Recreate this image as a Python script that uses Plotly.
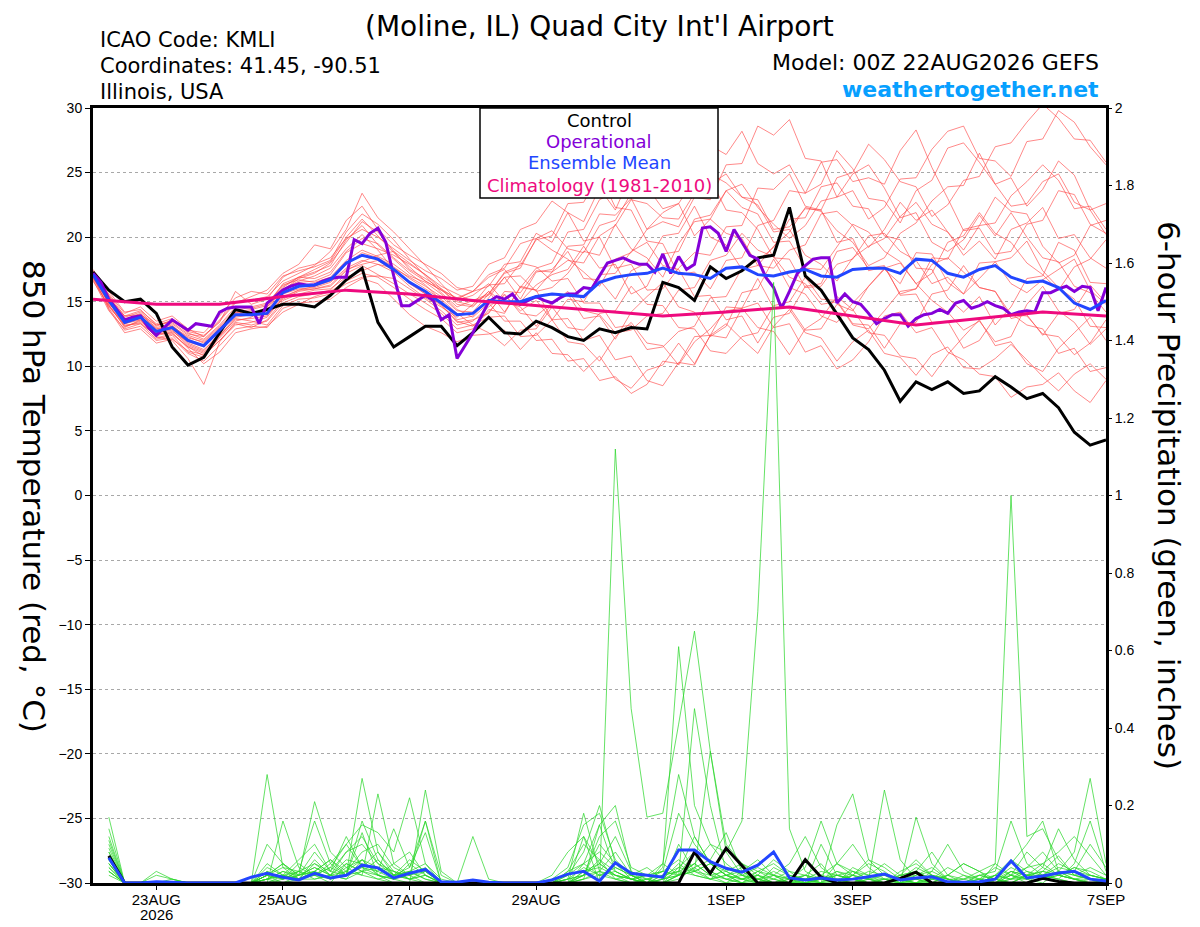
import plotly.graph_objects as go
import pandas as pd

# ---- time axes ----
start = pd.Timestamp("2026-08-22 00:00")
times6 = pd.date_range(start, periods=65, freq="6h")
times3 = pd.date_range(start, periods=129, freq="3h")
times24 = pd.date_range(start, periods=17, freq="24h")

tick_vals = ["2026-08-23", "2026-08-25", "2026-08-27", "2026-08-29",
             "2026-09-01", "2026-09-03", "2026-09-05", "2026-09-07"]
tick_text = ["23AUG", "25AUG", "27AUG", "29AUG", "1SEP", "3SEP", "5SEP", "7SEP"]
year_label = "2026"

# ---- 850 hPa temperature (C) ----
control_t = [17.3, 15.9, 15.0, 15.2, 14.1, 11.5, 10.1, 10.7, 12.6, 14.4,
             14.1, 14.4, 14.8, 14.8, 14.6, 15.5, 16.7, 17.6, 13.4, 11.5,
             12.3, 13.1, 13.1, 11.6, 12.6, 13.8, 12.6, 12.5, 13.5, 13.0,
             12.3, 12.0, 12.9, 12.6, 13.0, 12.9, 16.5, 16.1, 15.1, 17.7,
             16.8, 17.4, 18.4, 18.6, 22.3, 17.0, 15.9, 14.1, 12.2, 11.3,
             9.7, 7.3, 8.8, 8.2, 8.8, 7.9, 8.1, 9.2, 8.4, 7.5,
             7.9, 6.8, 4.9, 3.9, 4.3]

mean_t = [17.1, 15.1, 13.4, 13.8, 12.7, 13.0, 12.0, 11.6, 12.8, 14.0,
          14.0, 14.1, 15.7, 16.2, 16.3, 16.7, 18.0, 18.6, 18.3, 17.5,
          16.5, 15.8, 14.9, 14.0, 14.1, 15.1, 15.0, 15.0, 15.4, 15.6,
          15.5, 15.4, 16.5, 16.9, 17.1, 17.2, 17.6, 17.2, 17.1, 16.8,
          17.6, 17.7, 17.1, 17.0, 17.3, 17.5, 17.0, 16.9, 17.5, 17.6,
          17.6, 17.2, 18.3, 18.2, 17.2, 16.9, 17.5, 17.8, 16.9, 16.5,
          16.6, 16.1, 14.9, 14.4, 15.1]

oper_t = [17.2, 16.5, 15.2, 14.4, 13.6, 13.8, 13.9, 13.0, 12.4, 13.0,
          13.6, 13.2, 12.8, 13.3, 13.2, 13.1, 14.2, 14.5, 14.6, 14.6,
          14.6, 13.3, 14.9, 15.4, 15.9, 16.2, 16.4, 16.3, 16.3, 16.6,
          16.8, 16.9, 16.9, 19.8, 19.5, 20.3, 20.7, 19.6, 17.0, 14.7,
          14.7, 15.1, 15.5, 15.1, 13.6, 14.0, 10.6, 11.6, 12.6, 13.8,
          15.0, 15.4, 15.2, 15.6, 14.8, 15.1, 15.4, 15.1, 14.9, 15.3,
          15.6, 15.6, 16.1, 16.0, 17.0, 18.0, 18.2, 18.4, 18.1, 17.9,
          17.9, 17.3, 18.7, 17.2, 18.5, 17.5, 17.9, 20.7, 20.8, 20.3,
          18.9, 20.6, 19.6, 18.6, 18.3, 16.9, 16.1, 14.5, 15.8, 17.2,
          17.8, 18.3, 18.4, 18.4, 14.9, 15.6, 15.0, 14.8, 14.1, 13.3,
          13.7, 14.0, 14.0, 13.1, 13.7, 14.0, 14.1, 14.4, 14.1, 14.9,
          15.1, 14.5, 14.7, 15.0, 14.7, 14.5, 14.0, 14.2, 14.3, 14.2,
          15.7, 15.7, 16.0, 16.2, 15.8, 16.2, 16.1, 14.3, 16.1]

clim_t = [15.2, 14.8, 14.8, 15.4, 15.9, 15.6, 15.1, 14.7, 14.3,
          13.9, 14.2, 14.6, 13.9, 13.2, 13.7, 14.2, 13.9]

# ensemble members: first 25 steps + remaining 40 steps
t_m01 = [17.2, 14.8, 13.0, 13.6, 12.2, 12.5, 11.5, 11.0, 12.2, 13.5, 13.8, 14.6, 15.9, 16.8, 17.2,
         18.0, 19.6, 21.2, 20.4, 18.9, 17.5, 16.8, 16.0, 15.2, 15.8] + \
        [16.2, 17.9, 18.1, 20.3, 19.6, 21.9, 21.2, 23.8, 22.1, 24.9, 25.3, 26.8, 24.2, 24.6, 27.1,
         26.4, 28.2, 25.7, 24.9, 25.6, 23.4, 24.1, 26.7, 25.3, 23.0, 22.8, 21.1, 23.6, 24.4, 26.9,
         27.3, 25.8, 24.1, 24.6, 22.4, 23.7, 25.9, 24.8, 22.1, 22.6]
t_m02 = [17.0, 14.5, 12.8, 13.1, 12.0, 12.2, 11.0, 10.4, 11.6, 12.9, 13.1, 13.0, 14.5, 14.9, 15.0,
         15.2, 16.1, 16.8, 16.4, 15.2, 14.0, 13.1, 12.6, 11.9, 12.4] + \
        [12.5, 12.8, 11.3, 12.6, 11.0, 10.9, 9.6, 10.8, 9.0, 8.3, 9.7, 10.1, 11.8, 10.2, 12.4,
         13.3, 12.1, 11.0, 13.1, 14.4, 12.6, 12.2, 10.4, 11.9, 12.8, 11.0, 10.7, 9.3, 10.9, 11.5,
         9.9, 9.8, 10.6, 11.7, 10.5, 9.2, 8.1, 9.4, 10.2, 9.0]
t_m03 = [16.8, 15.3, 13.8, 14.2, 13.1, 13.6, 12.6, 12.1, 13.2, 14.6, 14.5, 14.8, 16.2, 16.9, 17.3,
         17.8, 19.8, 20.9, 19.4, 18.3, 17.2, 16.3, 15.1, 13.6, 13.9] + \
        [15.3, 16.9, 17.0, 15.8, 16.1, 17.2, 18.9, 18.6, 21.0, 19.1, 18.4, 16.9, 19.5, 21.2, 21.4,
         20.3, 19.9, 17.8, 17.6, 19.0, 19.4, 21.8, 22.0, 20.9, 19.2, 20.6, 22.7, 21.3, 22.1, 20.4,
         18.6, 19.7, 18.3, 20.6, 21.1, 22.3, 19.9, 20.2, 18.4, 17.6]
t_m04 = [17.3, 15.6, 14.1, 14.6, 13.5, 13.9, 12.9, 12.3, 13.6, 15.0, 15.1, 15.4, 16.6, 17.2, 17.8,
         18.9, 20.6, 23.4, 21.5, 20.4, 19.1, 17.8, 16.4, 15.1, 15.5] + \
        [16.4, 15.0, 14.6, 13.1, 14.9, 15.6, 13.7, 13.9, 12.1, 14.2, 15.4, 16.5, 14.6, 14.2, 12.3,
         13.1, 15.7, 16.0, 18.3, 16.1, 15.6, 13.9, 13.4, 14.9, 16.2, 17.6, 18.0, 16.4, 15.1, 14.2,
         12.8, 13.5, 11.9, 12.3, 14.8, 16.2, 14.3, 13.4, 11.7, 12.9]
t_m05 = [16.9, 14.9, 13.5, 13.9, 12.6, 12.9, 11.7, 11.2, 12.6, 14.1, 14.3, 14.0, 15.6, 16.0, 16.1,
         16.5, 17.6, 18.2, 17.9, 17.6, 16.9, 16.2, 15.4, 14.3, 14.2] + \
        [15.6, 17.2, 17.6, 19.9, 20.5, 19.1, 18.8, 20.9, 21.3, 23.4, 23.9, 22.2, 22.6, 20.1, 21.4,
         23.6, 24.1, 22.3, 21.0, 19.9, 20.9, 22.8, 23.1, 24.9, 25.6, 23.8, 21.5, 21.9, 19.6, 18.9,
         19.8, 21.7, 20.1, 21.9, 20.0, 18.4, 18.1, 16.2, 15.7, 14.2]
t_m06 = [17.1, 15.0, 13.1, 13.4, 12.3, 12.0, 10.6, 8.6, 11.9, 13.4, 13.2, 13.5, 14.9, 15.4, 15.6,
         15.9, 17.2, 17.8, 17.1, 16.4, 15.6, 14.9, 14.1, 12.9, 13.2] + \
        [13.8, 13.9, 12.3, 12.4, 13.6, 11.9, 11.7, 10.4, 12.3, 13.4, 11.8, 11.6, 10.1, 11.9, 12.9,
         14.3, 14.5, 13.0, 12.7, 10.9, 12.9, 13.7, 15.4, 14.4, 12.6, 12.4, 10.8, 10.6, 9.2, 10.9,
         12.3, 13.6, 11.6, 11.9, 10.2, 9.6, 11.4, 12.6, 13.8, 12.0]
t_m07 = [17.4, 15.5, 13.9, 14.0, 13.0, 13.3, 12.4, 12.0, 13.1, 14.4, 14.1, 14.3, 15.8, 16.5, 16.6,
         17.1, 18.8, 19.5, 19.1, 18.6, 17.9, 17.1, 16.2, 15.6, 15.0] + \
        [15.5, 16.9, 15.2, 17.3, 17.5, 18.9, 16.8, 16.7, 15.2, 17.4, 18.0, 20.1, 20.3, 22.4, 20.0,
         19.4, 17.5, 17.8, 19.3, 20.4, 22.3, 22.0, 20.5, 19.6, 17.8, 18.4, 20.3, 21.1, 22.8, 23.9,
         24.0, 26.5, 24.1, 22.4, 22.6, 24.3, 24.9, 22.7, 22.1, 20.2]
t_m08 = [16.6, 14.7, 13.3, 13.7, 12.8, 13.1, 12.2, 11.9, 13.0, 14.2, 13.9, 14.0, 15.2, 15.8, 16.0,
         16.2, 17.4, 18.1, 18.6, 18.9, 18.0, 17.1, 16.0, 14.8, 14.6] + \
        [15.8, 14.2, 16.1, 17.6, 18.0, 20.4, 20.6, 22.9, 23.5, 25.8, 25.9, 27.9, 27.2, 24.8, 24.5,
         22.1, 21.9, 20.6, 18.4, 18.3, 16.1, 16.2, 17.9, 18.3, 20.1, 20.3, 18.9, 18.2, 16.4, 16.9,
         15.6, 16.8, 18.1, 18.4, 19.7, 17.4, 16.1, 15.2, 13.1, 13.0]
t_m09 = [17.0, 14.4, 12.6, 12.9, 11.8, 12.1, 11.2, 10.9, 12.0, 13.3, 13.0, 13.6, 15.1, 15.6, 15.9,
         16.0, 16.9, 17.4, 17.9, 17.3, 16.2, 15.3, 14.6, 13.8, 14.8] + \
        [16.3, 16.4, 18.0, 17.7, 16.6, 16.8, 14.9, 14.9, 13.0, 13.2, 11.3, 11.5, 12.7, 13.1, 15.3,
         15.4, 17.6, 18.2, 19.2, 21.4, 21.5, 23.9, 24.2, 22.4, 22.2, 20.1, 19.8, 17.6, 17.5, 15.3,
         14.2, 15.4, 13.2, 14.6, 16.8, 17.0, 19.6, 19.0, 16.5, 16.4]
t_m10 = [17.2, 15.2, 13.6, 14.1, 12.9, 13.2, 12.1, 11.6, 12.9, 14.3, 14.6, 14.9, 16.3, 16.7, 16.5,
         16.9, 18.2, 19.0, 18.5, 17.9, 17.0, 16.5, 15.6, 14.4, 13.8] + \
        [14.9, 13.5, 13.5, 12.0, 12.1, 10.4, 10.6, 8.9, 9.2, 7.9, 8.6, 10.4, 10.2, 12.3, 12.4,
         14.6, 14.5, 16.8, 14.5, 14.6, 12.8, 12.9, 14.8, 14.3, 16.2, 17.5, 16.4, 18.8, 18.7, 16.5,
         15.6, 18.0, 18.1, 16.4, 15.7, 16.7, 17.5, 18.3, 15.9, 14.8]
t_m11 = [16.9, 15.1, 13.7, 13.8, 12.5, 12.7, 11.9, 11.5, 12.7, 13.9, 14.1, 14.4, 16.0, 16.6, 17.0,
         17.6, 19.1, 20.2, 19.0, 17.5, 16.4, 15.6, 14.8, 13.4, 13.6] + \
        [14.1, 15.8, 15.7, 17.4, 17.3, 19.3, 19.4, 21.8, 21.7, 23.0, 20.6, 21.2, 20.8, 23.1, 22.9,
         25.6, 25.7, 28.6, 27.9, 29.1, 26.1, 25.9, 23.1, 23.6, 21.4, 22.3, 24.5, 24.6, 26.8, 28.2,
         28.6, 26.1, 25.9, 24.7, 27.4, 27.6, 29.8, 28.9, 27.0, 25.6]
t_m12 = [17.5, 15.8, 14.2, 14.4, 13.2, 13.5, 12.7, 12.4, 13.4, 15.8, 14.8, 15.2, 16.9, 17.6, 17.9,
         18.4, 19.9, 20.6, 20.0, 19.1, 18.2, 17.4, 16.8, 15.9, 16.2] + \
        [17.9, 18.4, 20.6, 21.1, 22.8, 21.9, 19.7, 20.0, 17.6, 17.9, 15.9, 16.0, 17.6, 18.8, 18.6,
         20.8, 20.9, 23.8, 23.7, 24.9, 22.4, 22.1, 19.6, 19.9, 17.4, 17.7, 15.6, 16.0, 18.4, 18.3,
         20.6, 20.9, 23.1, 22.0, 21.8, 19.3, 18.0, 18.6, 20.9, 21.3]
t_m13 = [16.7, 14.3, 12.9, 13.3, 12.4, 12.6, 11.4, 10.2, 11.1, 12.6, 12.9, 13.1, 14.2, 14.8, 15.4,
         15.8, 16.6, 17.2, 16.9, 16.1, 15.2, 14.4, 13.7, 12.6, 12.9] + \
        [14.4, 14.1, 16.2, 15.9, 13.6, 13.7, 12.0, 12.4, 10.5, 10.8, 8.9, 8.5, 10.3, 10.1, 12.4,
         12.2, 14.5, 14.9, 13.0, 13.3, 11.1, 11.6, 9.8, 10.5, 11.9, 13.9, 14.2, 12.6, 13.0, 11.1,
         10.5, 9.4, 9.2, 7.6, 8.4, 8.6, 9.5, 8.1, 7.2, 8.9]
t_m14 = [17.3, 15.4, 13.6, 14.0, 13.2, 13.4, 12.5, 12.3, 13.5, 14.9, 15.4, 15.9, 17.2, 17.9, 19.4,
         19.1, 21.3, 22.4, 20.6, 19.4, 18.6, 17.9, 17.2, 16.1, 15.8] + \
        [16.9, 17.5, 16.1, 15.9, 17.3, 18.2, 18.0, 20.1, 20.9, 22.9, 22.6, 21.5, 21.4, 23.4, 24.1,
         24.9, 23.1, 22.9, 20.6, 20.8, 22.2, 22.1, 24.6, 25.0, 27.2, 26.0, 24.3, 23.9, 21.6, 22.5,
         24.4, 24.7, 27.0, 27.3, 28.9, 30.3, 29.2, 27.6, 27.5, 25.8]
t_m15 = [16.8, 14.6, 13.2, 13.3, 12.1, 12.4, 11.1, 10.7, 12.3, 13.7, 13.5, 13.2, 14.7, 15.2, 15.3,
         15.6, 16.4, 16.9, 17.0, 16.8, 16.0, 15.2, 14.3, 13.2, 13.5] + \
        [14.6, 15.5, 14.3, 15.1, 13.6, 15.2, 15.0, 17.1, 17.2, 18.9, 19.6, 17.8, 17.5, 15.4, 15.5,
         13.6, 13.9, 11.8, 13.8, 14.1, 16.2, 16.4, 18.9, 19.2, 17.6, 17.8, 15.5, 15.6, 13.4, 13.5,
         11.4, 12.0, 13.8, 14.1, 13.2, 12.9, 11.0, 11.4, 9.6, 9.9]
t_m16 = [17.1, 15.3, 13.9, 14.3, 13.3, 13.7, 12.8, 12.6, 13.9, 15.3, 15.8, 15.6, 17.0, 17.4, 17.7,
         18.2, 20.4, 21.8, 21.0, 19.8, 18.3, 17.0, 15.7, 14.6, 15.1] + \
        [15.6, 17.3, 17.8, 19.8, 20.1, 22.6, 22.7, 24.9, 22.3, 22.1, 19.7, 19.5, 17.1, 17.3, 16.0,
         18.2, 18.4, 20.9, 21.3, 23.6, 23.4, 25.8, 26.0, 24.3, 24.6, 24.1, 26.7, 28.3, 25.4, 23.0,
         20.5, 20.7, 18.7, 18.9, 21.0, 21.3, 23.6, 23.3, 21.0, 20.3]
t_m17 = [17.0, 14.9, 13.4, 13.9, 12.9, 13.0, 11.8, 11.3, 12.4, 13.6, 13.7, 13.9, 15.4, 15.9, 16.2,
         16.6, 17.9, 18.8, 18.4, 17.7, 16.8, 16.0, 15.2, 14.1, 13.2] + \
        [12.6, 11.6, 12.8, 12.9, 14.6, 13.0, 12.8, 14.1, 14.3, 16.2, 14.8, 14.7, 13.0, 12.9, 11.2,
         11.0, 12.3, 12.6, 14.7, 15.0, 16.9, 15.2, 15.1, 13.3, 13.2, 11.4, 13.3, 13.4, 15.6, 15.9,
         17.8, 16.1, 15.8, 13.7, 14.0, 12.4, 14.1, 14.4, 16.3, 14.9]
t_m18 = [16.9, 15.0, 13.5, 13.7, 12.6, 12.8, 11.6, 11.1, 12.4, 13.8, 14.0, 14.6, 16.1, 16.9, 17.5,
         18.1, 20.0, 21.4, 20.1, 18.8, 17.7, 16.6, 15.9, 15.0, 14.7] + \
        [15.8, 14.9, 15.0, 16.3, 17.1, 17.5, 19.3, 17.6, 17.9, 15.6, 16.2, 18.7, 18.9, 21.4, 21.7,
         23.6, 22.3, 21.8, 19.6, 19.7, 17.6, 17.5, 19.3, 21.0, 20.4, 18.9, 18.1, 16.4, 17.2, 19.6,
         20.1, 21.9, 20.3, 19.6, 18.0, 17.1, 15.9, 17.7, 18.3, 19.8]
t_m19 = [17.2, 14.7, 13.1, 13.5, 12.5, 12.6, 11.5, 10.8, 12.0, 13.2, 13.4, 13.8, 15.3, 15.9, 16.0,
         16.3, 17.5, 17.9, 18.2, 17.4, 16.5, 15.6, 14.7, 13.5, 13.1] + \
        [14.2, 15.6, 14.1, 13.9, 14.9, 15.8, 14.3, 14.0, 12.6, 12.8, 13.9, 14.1, 15.9, 16.1, 18.2,
         18.6, 20.3, 19.0, 18.5, 16.9, 16.4, 14.8, 15.0, 13.2, 12.9, 14.3, 15.8, 16.0, 17.9, 18.4,
         17.3, 16.1, 15.8, 14.0, 13.9, 12.5, 12.3, 10.9, 11.8, 13.6]
t_m20 = [17.3, 15.2, 13.3, 13.6, 12.7, 13.1, 12.3, 11.8, 12.9, 14.2, 14.4, 14.7, 16.4, 16.9, 16.8,
         17.3, 18.9, 19.9, 19.5, 18.4, 17.4, 16.6, 15.9, 15.3, 15.8] + \
        [17.1, 17.6, 19.5, 19.9, 19.0, 18.3, 17.3, 16.2, 18.3, 18.8, 20.6, 21.9, 22.6, 24.5, 24.9,
         24.2, 23.1, 22.5, 20.4, 20.6, 18.6, 17.9, 16.6, 18.4, 19.3, 19.9, 21.6, 22.7, 21.0, 20.4,
         19.0, 20.9, 21.1, 23.2, 24.3, 25.6, 24.4, 22.2, 22.4, 20.6]

# ---- 6-hour precipitation (inches) ----
control_p = [None, 0.07, 0, 0, 0, 0, 0, 0, 0, 0, 0, 0, 0, 0, 0, 0, 0, 0, 0, 0,
             0, 0, 0, 0, 0, 0, 0, 0, 0, 0, 0, 0, 0, 0, 0, 0, 0, 0, 0.08, 0.025,
             0.09, 0.045, 0, 0, 0, 0.06, 0.015, 0, 0, 0, 0, 0.012, 0.028, 0, 0,
             0, 0, 0, 0, 0, 0.012, 0.004, 0, 0, 0]
mean_p = [None, 0.065, 0, 0, 0.003, 0.002, 0, 0, 0, 0, 0.015, 0.025, 0.015, 0.008, 0.025,
          0.013, 0.02, 0.046, 0.039, 0.013, 0.025, 0.035, 0.003, 0.002, 0.008, 0.002, 0, 0, 0, 0.008,
          0.023, 0.03, 0.005, 0.052, 0.025, 0.02, 0.015, 0.085, 0.085, 0.055, 0.038, 0.028, 0.046, 0.08, 0.013,
          0.008, 0.013, 0.008, 0.01, 0.016, 0.023, 0.008, 0.013, 0.016, 0.003, 0.002, 0.003, 0.01, 0.057, 0.013,
          0.018, 0.026, 0.03, 0.01, 0.005]

p_m01 = [None, 0.05, 0, 0, 0, 0, 0, 0, 0, 0, 0, 0.04, 0.02, 0.06, 0.1, 0.03, 0.08, 0.12, 0.05, 0.02,
         0.06, 0.03, 0, 0, 0, 0, 0, 0, 0, 0.02, 0.08, 0.12, 0, 1.12, 0.45, 0.17, 0.18, 0.41, 0.65, 0.34,
         0.1, 0.05, 0.03, 0.01, 0, 0, 0.02, 0.05, 0.1, 0.04, 0.01, 0, 0.03, 0.08, 0.02, 0, 0.01, 0.04, 0.02, 0,
         0.03, 0.07, 0.02, 0.01, 0]
p_m02 = [None, 0.08, 0, 0, 0, 0, 0, 0, 0, 0, 0, 0.02, 0.05, 0.01, 0.03, 0.06, 0.02, 0.27, 0.08, 0.03,
         0.01, 0, 0, 0, 0, 0, 0, 0, 0, 0, 0.03, 0.05, 0.08, 0.04, 0.02, 0, 0.01, 0.02, 0.05, 0.1,
         0.08, 0.16, 0.7, 1.55, 0.14, 0.03, 0.01, 0, 0.02, 0.06, 0.04, 0.01, 0, 0, 0.02, 0.05, 0.03, 0, 0.01, 0.04,
         0.08, 0.03, 0.01, 0, 0]
p_m03 = [None, 0.03, 0, 0, 0, 0, 0, 0, 0, 0, 0, 0, 0.16, 0.04, 0.02, 0, 0.05, 0.03, 0.01, 0,
         0, 0, 0, 0, 0, 0, 0, 0, 0, 0.01, 0.04, 0.15, 0.18, 0.06, 0.02, 0, 0, 0.04, 0.08, 0.03,
         0.01, 0, 0.02, 0.06, 0.03, 0, 0, 0.03, 0.01, 0, 0, 0, 0, 0.02, 0.01, 0, 0, 0.05, 1.0, 0.12,
         0.14, 0.06, 0.02, 0.01, 0]
p_m04 = [None, 0.17, 0, 0, 0, 0, 0, 0, 0, 0, 0, 0.28, 0.04, 0.01, 0.05, 0.02, 0.03, 0.06, 0.02, 0,
         0, 0, 0, 0, 0, 0, 0, 0, 0, 0, 0.02, 0.08, 0.2, 0.05, 0.01, 0, 0.04, 0.61, 0.2, 0.1,
         0.05, 0.02, 0, 0, 0.01, 0.04, 0.16, 0.05, 0.02, 0, 0, 0.03, 0.05, 0.02, 0, 0, 0, 0, 0.02, 0.08,
         0.04, 0.14, 0.06, 0.02, 0.01]
p_m05 = [None, 0.12, 0, 0, 0, 0, 0, 0, 0, 0, 0, 0.1, 0.05, 0.02, 0.21, 0.08, 0.04, 0.02, 0.23, 0.05,
         0.02, 0, 0, 0, 0, 0, 0, 0, 0, 0, 0, 0.02, 0.05, 0.12, 0.03, 0.01, 0, 0.02, 0.45, 0.2,
         0.03, 0.01, 0, 0.04, 0.02, 0.01, 0, 0.15, 0.23, 0.06, 0.02, 0, 0, 0.01, 0.04, 0.02, 0, 0, 0.03, 0.01,
         0, 0.03, 0.08, 0.27, 0.05]
p_m06 = [None, 0.09, 0, 0, 0, 0.01, 0, 0, 0, 0, 0, 0.02, 0.01, 0.03, 0.16, 0.05, 0.1, 0.04, 0.02, 0.01,
         0, 0.24, 0.03, 0, 0, 0, 0, 0, 0, 0, 0.01, 0.18, 0.03, 0.01, 0, 0, 0.05, 0.02, 0.03, 0.34,
         0.08, 0.02, 0.01, 0, 0, 0.02, 0.05, 0, 0, 0.01, 0.24, 0.06, 0.01, 0, 0, 0, 0.02, 0.01, 0, 0.02,
         0.05, 0.02, 0.01, 0, 0]
p_m07 = [None, 0.06, 0, 0, 0, 0, 0, 0, 0, 0, 0, 0, 0.01, 0.05, 0.02, 0.04, 0.1, 0.15, 0.13, 0.08,
         0.22, 0.05, 0.01, 0, 0, 0, 0, 0, 0, 0, 0, 0.01, 0.15, 0.03, 0.01, 0, 0, 0.02, 0.05, 0.02,
         0, 0.03, 0.06, 0.02, 0, 0.01, 0, 0, 0.04, 0.02, 0.01, 0, 0.17, 0.05, 0.01, 0, 0, 0.02, 0.05, 0.1,
         0.16, 0.03, 0.01, 0, 0]
p_m08 = [None, 0.04, 0, 0, 0.03, 0.01, 0, 0, 0, 0, 0, 0.01, 0.03, 0.02, 0.04, 0.02, 0.06, 0.05, 0.03, 0.14,
         0.04, 0.16, 0.02, 0, 0, 0, 0, 0, 0, 0, 0, 0.03, 0.05, 0.02, 0.01, 0, 0, 0.1, 0.03, 0.05,
         0.02, 0, 0, 0.01, 0.03, 0.02, 0.01, 0, 0.01, 0.03, 0.02, 0.01, 0, 0, 0, 0.01, 0.03, 0.05, 0.02, 0.01,
         0.02, 0.05, 0.03, 0.1, 0.04]
p_m09 = [None, 0.07, 0, 0, 0, 0, 0, 0, 0, 0, 0, 0.02, 0.05, 0.02, 0.08, 0.03, 0.02, 0.16, 0.06, 0.02,
         0.04, 0.13, 0, 0, 0.12, 0.01, 0, 0, 0, 0, 0.02, 0.05, 0.15, 0.2, 0.03, 0, 0.02, 0.03, 0.12, 0.05,
         0.02, 0, 0.01, 0.03, 0.01, 0, 0, 0.01, 0.02, 0.05, 0.03, 0, 0, 0, 0.02, 0.05, 0.03, 0.01, 0, 0.02,
         0.03, 0.02, 0.01, 0.02, 0.01]
p_m10 = [None, 0.05, 0, 0, 0, 0, 0, 0, 0, 0, 0, 0.05, 0.02, 0.01, 0.06, 0.02, 0.01, 0.06, 0.04, 0.03,
         0.02, 0.16, 0, 0, 0, 0, 0, 0, 0, 0, 0, 0.12, 0.05, 0.02, 0, 0.01, 0.03, 0.18, 0.1, 0.05,
         0.03, 0.05, 0.02, 0, 0, 0, 0.1, 0.02, 0.01, 0, 0, 0.02, 0.03, 0.01, 0, 0, 0.02, 0.03, 0.16, 0.05,
         0.02, 0.01, 0, 0, 0.01]
p_m11 = [None, 0.03, 0, 0, 0, 0, 0, 0, 0, 0, 0, 0, 0.02, 0.01, 0.01, 0.02, 0.08, 0.1, 0.05, 0.03,
         0.01, 0.02, 0, 0, 0, 0, 0, 0, 0, 0, 0, 0.02, 0.03, 0.08, 0.02, 0.04, 0.01, 0.03, 0.02, 0.01,
         0.04, 0.02, 0.01, 0.02, 0.05, 0.12, 0.04, 0.01, 0, 0.02, 0.05, 0.02, 0.01, 0, 0, 0, 0.01, 0, 0.02, 0.04,
         0.05, 0.08, 0.12, 0.07, 0.02]
p_m12 = [None, 0.1, 0, 0, 0, 0, 0, 0, 0, 0, 0, 0.03, 0.01, 0.02, 0.03, 0.06, 0.03, 0.08, 0.1, 0.04,
         0.02, 0.03, 0, 0, 0, 0, 0, 0, 0, 0, 0.03, 0.1, 0.06, 0.01, 0.02, 0, 0, 0.01, 0.04, 0.06,
         0.13, 0.03, 0, 0, 0.01, 0.02, 0, 0, 0.03, 0.02, 0, 0.01, 0, 0.03, 0.1, 0.03, 0.01, 0, 0.01, 0.02,
         0.02, 0.01, 0.05, 0.16, 0.03]
p_m13 = [None, 0.02, 0, 0, 0.02, 0.01, 0, 0, 0, 0, 0, 0.01, 0, 0.02, 0.03, 0.01, 0.02, 0.03, 0.02, 0.05,
         0.08, 0.02, 0, 0, 0, 0, 0, 0, 0, 0, 0.01, 0.02, 0.1, 0.05, 0.02, 0, 0.01, 0.02, 0.08, 0.03,
         0.01, 0.02, 0.04, 0.02, 0, 0, 0, 0.02, 0.01, 0, 0.01, 0, 0.02, 0.04, 0.01, 0, 0, 0.01, 0.03, 0.02,
         0.01, 0.03, 0.02, 0.04, 0.02]
p_m14 = [None, 0.06, 0, 0, 0, 0, 0, 0, 0, 0, 0, 0.02, 0.04, 0.03, 0.05, 0.03, 0.12, 0.04, 0.08, 0.02,
         0.03, 0.05, 0, 0, 0, 0, 0, 0, 0, 0, 0, 0.05, 0.02, 0.03, 0.01, 0.02, 0.05, 0.28, 0.12, 0.05,
         0.02, 0.01, 0.03, 0.05, 0.02, 0, 0.01, 0.02, 0.03, 0.01, 0, 0.01, 0.04, 0.02, 0.01, 0, 0, 0.02, 0.06, 0.03,
         0.01, 0.02, 0.04, 0.03, 0.01]
p_m15 = [None, 0.14, 0, 0, 0, 0, 0, 0, 0, 0, 0, 0.02, 0.01, 0.03, 0.02, 0.04, 0.02, 0.13, 0.02, 0.01,
         0.05, 0.02, 0, 0, 0, 0, 0, 0, 0, 0, 0, 0.02, 0.12, 0.16, 0.04, 0.02, 0.03, 0.06, 0.03, 0.01,
         0.02, 0.03, 0.01, 0, 0.02, 0.01, 0, 0.05, 0.03, 0.01, 0, 0.02, 0.06, 0.02, 0, 0, 0, 0.01, 0.04, 0.02,
         0.03, 0.02, 0.01, 0, 0]
p_m16 = [None, 0.08, 0, 0, 0, 0, 0, 0, 0, 0, 0, 0.01, 0.02, 0.01, 0.02, 0.01, 0.03, 0.02, 0.01, 0.02,
         0.01, 0.02, 0, 0, 0, 0, 0, 0, 0, 0, 0, 0.01, 0.03, 0.02, 0.01, 0, 0.01, 0.05, 0.02, 0.01,
         0, 0.01, 0.02, 0.01, 0, 0, 0.01, 0, 0.02, 0.01, 0, 0, 0.01, 0.02, 0, 0, 0.01, 0.02, 0.01, 0.03,
         0.02, 0.01, 0, 0.01, 0]
p_m17 = [None, 0.04, 0, 0, 0, 0, 0, 0, 0, 0, 0, 0.03, 0.01, 0.02, 0.04, 0.02, 0.05, 0.03, 0.06, 0.02,
         0.03, 0.01, 0, 0, 0, 0, 0, 0, 0, 0, 0.01, 0.04, 0.02, 0.01, 0, 0.01, 0.02, 0.03, 0.05, 0.02,
         0.01, 0, 0.03, 0.02, 0.01, 0, 0.02, 0.01, 0, 0.01, 0.02, 0.01, 0, 0.01, 0.02, 0.01, 0, 0.01, 0.02, 0.01,
         0.04, 0.02, 0.01, 0.01, 0.01]
p_m18 = [None, 0.11, 0, 0, 0, 0, 0, 0, 0, 0, 0, 0.01, 0.03, 0.01, 0.02, 0.05, 0.02, 0.04, 0.03, 0.01,
         0.02, 0.04, 0, 0, 0, 0, 0, 0, 0, 0, 0, 0.03, 0.04, 0.02, 0.01, 0, 0.02, 0.04, 0.03, 0.02,
         0.03, 0.01, 0, 0.02, 0.01, 0.02, 0.01, 0.02, 0.01, 0, 0.01, 0.02, 0.03, 0.01, 0, 0.02, 0.01, 0, 0.03, 0.02,
         0.01, 0.03, 0.02, 0.01, 0]
p_m19 = [None, 0.05, 0, 0, 0, 0, 0, 0, 0, 0, 0, 0.02, 0, 0.01, 0.03, 0.01, 0.04, 0.06, 0.02, 0.01,
         0.03, 0.01, 0, 0, 0, 0, 0, 0, 0, 0, 0.01, 0.02, 0.06, 0.03, 0.01, 0.02, 0.03, 0.02, 0.04, 0.01,
         0.02, 0.04, 0.01, 0, 0, 0.01, 0.03, 0.02, 0.01, 0, 0, 0.01, 0.02, 0.03, 0.01, 0, 0, 0.02, 0.01, 0.01,
         0.02, 0.04, 0.03, 0.02, 0.01]
p_m20 = [None, 0.03, 0, 0, 0, 0, 0, 0, 0, 0, 0, 0.01, 0.02, 0.03, 0.01, 0.02, 0.01, 0.03, 0.04, 0.02,
         0.01, 0.03, 0, 0, 0, 0, 0, 0, 0, 0, 0, 0.01, 0.02, 0.04, 0.02, 0.01, 0, 0.02, 0.03, 0.05,
         0.02, 0.01, 0.02, 0, 0, 0, 0.01, 0.03, 0.02, 0.01, 0.01, 0, 0.01, 0.02, 0.01, 0.01, 0.02, 0.01, 0, 0.02,
         0.01, 0.02, 0.04, 0.02, 0.01]

temp_members = [t_m01, t_m02, t_m03, t_m04, t_m05, t_m06, t_m07, t_m08, t_m09, t_m10,
                t_m11, t_m12, t_m13, t_m14, t_m15, t_m16, t_m17, t_m18, t_m19, t_m20]
precip_members = [p_m01, p_m02, p_m03, p_m04, p_m05, p_m06, p_m07, p_m08, p_m09, p_m10,
                  p_m11, p_m12, p_m13, p_m14, p_m15, p_m16, p_m17, p_m18, p_m19, p_m20]

RED = "rgba(255,70,70,0.8)"
GREEN = "rgba(40,215,40,0.9)"
PURPLE = "#8400d8"
BLUE = "#2246ff"
PINK = "#ee0a7e"

fig = go.Figure()

for m in temp_members:
    fig.add_trace(go.Scatter(x=times6[:len(m)], y=m, mode="lines",
                             line=dict(color=RED, width=0.8), hoverinfo="skip"))
for m in precip_members:
    fig.add_trace(go.Scatter(x=times6[:len(m)], y=m, mode="lines", yaxis="y2",
                             line=dict(color=GREEN, width=0.8), hoverinfo="skip"))

fig.add_trace(go.Scatter(x=times6[:len(control_t)], y=control_t, mode="lines",
                         line=dict(color="black", width=3), name="Control"))
fig.add_trace(go.Scatter(x=times3[:len(oper_t)], y=oper_t, mode="lines",
                         line=dict(color=PURPLE, width=3), name="Operational"))
fig.add_trace(go.Scatter(x=times6[:len(mean_t)], y=mean_t, mode="lines",
                         line=dict(color=BLUE, width=3), name="Ensemble Mean"))
fig.add_trace(go.Scatter(x=times24[:len(clim_t)], y=clim_t, mode="lines",
                         line=dict(color=PINK, width=3), name="Climatology"))
fig.add_trace(go.Scatter(x=times6[:len(control_p)], y=control_p, mode="lines", yaxis="y2",
                         line=dict(color="black", width=3)))
fig.add_trace(go.Scatter(x=times6[:len(mean_p)], y=mean_p, mode="lines", yaxis="y2",
                         line=dict(color=BLUE, width=3)))

# plot area on the page: x 93..1106, y 108..883 (page body adds an 8px offset)
def px(x):
    return (x - 93) / 1013.0

def py(y):
    return (883 - y) / 775.0

FONT = "DejaVu Sans, Liberation Sans, sans-serif"
TICKFONT = "Liberation Sans, Arial, sans-serif"

annots = [
    dict(x=0.5, y=py(8), yanchor="top", text="(Moline, IL) Quad City Int'l Airport",
         font=dict(size=28)),
    dict(x=px(98), y=py(40), xanchor="left", text="ICAO Code: KMLI", font=dict(size=21)),
    dict(x=px(98), y=py(66), xanchor="left", text="Coordinates: 41.45, -90.51", font=dict(size=21)),
    dict(x=px(98), y=py(92), xanchor="left", text="Illinois, USA", font=dict(size=21)),
    dict(x=px(1101), y=py(63), xanchor="right", text="Model: 00Z 22AUG2026 GEFS", font=dict(size=22)),
    dict(x=px(1101), y=py(89), xanchor="right", text="<b>weathertogether.net</b>",
         font=dict(size=22, color="#07a0ff")),
    dict(x=px(34), y=py(496), text="850 hPa Temperature (red, °C)", textangle=90,
         font=dict(size=31)),
    dict(x=px(1169), y=py(495), text="6-hour Precipitation (green, inches)", textangle=90,
         font=dict(size=31)),
    dict(x=px(599), y=py(121), text="Control", font=dict(size=18, color="black")),
    dict(x=px(599), y=py(142), text="Operational", font=dict(size=18, color=PURPLE)),
    dict(x=px(599), y=py(163), text="Ensemble Mean", font=dict(size=18, color=BLUE)),
    dict(x=px(599), y=py(185), text="Climatology (1981-2010)", font=dict(size=18, color=PINK)),
]
for a in annots:
    a.setdefault("xanchor", "center")
    a.setdefault("yanchor", "middle")
    a.update(xref="paper", yref="paper", showarrow=False)
    a["font"].setdefault("color", "black")
    a["font"]["family"] = FONT

# year under the first date tick
annots.append(dict(x=tick_vals[0], xref="x", y=py(914), yref="paper", text=year_label,
                   showarrow=False, xanchor="center", yanchor="middle",
                   font=dict(family=TICKFONT, size=15, color="black")))

fig.update_layout(
    width=1192, height=919, autosize=False,
    margin=dict(l=85, r=94, t=100, b=44),
    paper_bgcolor="white", plot_bgcolor="white",
    showlegend=False,
    font=dict(family=TICKFONT, size=14, color="black"),
    annotations=annots,
    shapes=[dict(type="rect", xref="paper", yref="paper", x0=px(480), x1=px(718),
                 y0=py(198), y1=1.0, fillcolor="white",
                 line=dict(color="black", width=1.5), layer="above")],
    xaxis=dict(type="date", range=[times6[0], times6[-1]],
               tickvals=tick_vals, ticktext=tick_text,
               ticks="outside", ticklen=4, tickwidth=1, tickcolor="black",
               ticklabelstandoff=-3,
               showgrid=False, zeroline=False, automargin=False,
               showline=True, linewidth=3, linecolor="black", mirror=True,
               tickfont=dict(size=15)),
    yaxis=dict(range=[-30, 30], tick0=-30, dtick=5,
               ticks="outside", ticklen=5, tickcolor="black",
               showgrid=True, gridcolor="#a8a8a8", griddash="dot", gridwidth=1,
               zeroline=False, automargin=False,
               showline=True, linewidth=3, linecolor="black", mirror=True,
               tickfont=dict(size=14)),
    yaxis2=dict(range=[0, 2], tick0=0, dtick=0.2, overlaying="y", side="right",
                ticks="outside", ticklen=5, tickcolor="black",
                showgrid=False, zeroline=False, showline=False, automargin=False,
                tickfont=dict(size=14)),
)

fig.write_html("out.html")
